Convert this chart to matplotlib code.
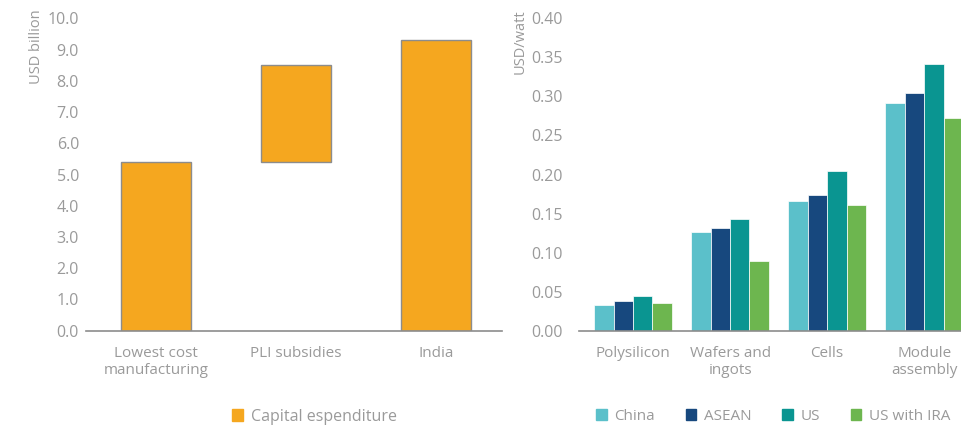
import numpy as np
import matplotlib
matplotlib.use("Agg")
import matplotlib.pyplot as plt
from matplotlib.patches import Patch

plt.rcParams['font.family'] = ['Open Sans', 'DejaVu Sans']

# left chart: capital expenditure waterfall (USD billion)
capex_labels = ['Lowest cost\nmanufacturing', 'PLI subsidies', 'India']
capex_heights = [5.4, 3.1, 9.3]
capex_bottoms = [0, 5.4, 0]

# right chart: cost by stage (USD/watt)
stages = ['Polysilicon', 'Wafers and\ningots', 'Cells', 'Module\nassembly']
china = [0.033, 0.127, 0.166, 0.292]
asean = [0.038, 0.131, 0.174, 0.304]
us = [0.045, 0.143, 0.204, 0.341]
us_ira = [0.036, 0.089, 0.161, 0.273]

grey_txt = '#9a9a9a'
orange = '#F5A71F'
cols = ['#5BC0CA', '#17487E', '#0A9591', '#6DB64F']

fig = plt.figure(figsize=(9.61, 4.26), dpi=100)
ax1 = fig.add_axes([0.0895, 0.2237, 0.4329, 0.7333])
ax2 = fig.add_axes([0.6025, 0.2237, 0.3975, 0.7333])

# ---- left
x1 = np.arange(len(capex_labels))
ax1.bar(x1, capex_heights, bottom=capex_bottoms, width=0.5, color=orange,
        edgecolor='#8c8c8c', linewidth=1.0, label='Capital espenditure')
ax1.set_xlim(-0.5, 2.47)
ax1.set_ylim(0, 10)
ax1.set_yticks(np.arange(0, 10.1, 1.0))
ax1.set_yticklabels(['%.1f' % v for v in np.arange(0, 10.1, 1.0)])
ax1.set_xticks(x1)
ax1.set_xticklabels(capex_labels, linespacing=1.15)
ax1.tick_params(axis='y', length=0, pad=5, labelsize=11.5, labelcolor=grey_txt)
ax1.tick_params(axis='x', length=0, pad=11, labelsize=11, labelcolor=grey_txt)
for s in ['top', 'right', 'left']:
    ax1.spines[s].set_visible(False)
ax1.spines['bottom'].set_color('#8c8c8c')
ax1.spines['bottom'].set_linewidth(1.2)
fig.text(0.038, 0.977, 'USD billion', rotation=90, va='top', ha='center',
         fontsize=10.5, color=grey_txt)
fig.legend(handles=[Patch(color=orange, label='Capital espenditure')],
           loc='center left', bbox_to_anchor=(0.226, 0.022), frameon=False,
           fontsize=11.5, labelcolor=grey_txt, handlelength=0.7, handleheight=0.7,
           handletextpad=0.5)

# ---- right
x2 = np.arange(len(stages))
w = 0.2
series = [('China', china), ('ASEAN', asean), ('US', us), ('US with IRA', us_ira)]
for i, (name, vals) in enumerate(series):
    ax2.bar(x2 + (i - 1.5) * w, vals, width=w, color=cols[i],
            edgecolor='white', linewidth=0.5, label=name)
ax2.set_xlim(-0.557, 3.38)
ax2.set_ylim(0, 0.4)
ax2.set_yticks(np.arange(0, 0.401, 0.05))
ax2.set_yticklabels(['%.2f' % v for v in np.arange(0, 0.401, 0.05)])
ax2.set_xticks(x2)
ax2.set_xticklabels(stages, linespacing=1.15)
ax2.tick_params(axis='y', length=0, pad=12, labelsize=11.5, labelcolor=grey_txt)
ax2.tick_params(axis='x', length=0, pad=11, labelsize=11, labelcolor=grey_txt)
for s in ['top', 'right', 'left']:
    ax2.spines[s].set_visible(False)
ax2.spines['bottom'].set_color('#8c8c8c')
ax2.spines['bottom'].set_linewidth(1.2)
fig.text(0.541, 0.977, 'USD/watt', rotation=90, va='top', ha='center',
         fontsize=10.5, color=grey_txt)
fig.legend(handles=[Patch(color=c, label=n) for c, (n, _) in zip(cols, series)],
           loc='center left', bbox_to_anchor=(0.606, 0.022), ncol=4, frameon=False,
           fontsize=11, labelcolor=grey_txt, handlelength=0.7, handleheight=0.7,
           handletextpad=0.5, columnspacing=2.0)

fig.savefig('out.png', dpi=100)
